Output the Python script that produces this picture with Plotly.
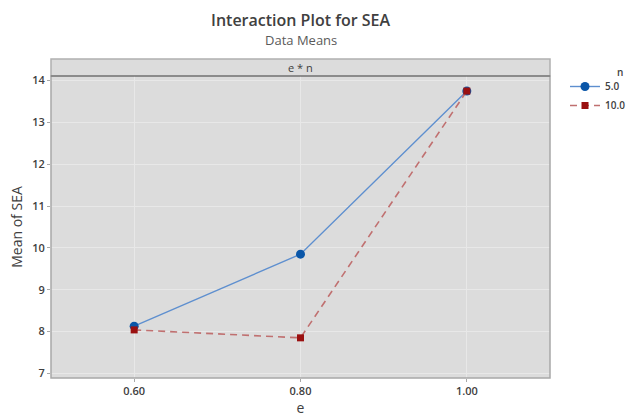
import plotly.graph_objects as go

# Factor levels and cell means
e_levels = [0.60, 0.80, 1.00]
e_labels = ["0.60", "0.80", "1.00"]
mean_n5 = [8.13, 9.85, 13.75]
mean_n10 = [8.04, 7.85, 13.75]
y_ticks = [7, 8, 9, 10, 11, 12, 13, 14]

FONT = "Open Sans"
TXT = "#404040"

fig = go.Figure()

fig.add_trace(go.Scatter(
    x=e_levels, y=mean_n5, name="5.0", mode="lines+markers",
    line=dict(color="#5e8fcf", width=1.4),
    marker=dict(symbol="circle", size=9, color="#0a56a8"),
))
fig.add_trace(go.Scatter(
    x=e_levels, y=mean_n10, name="10.0", mode="lines+markers",
    line=dict(color="#c07070", width=1.6, dash="7px,5px"),
    marker=dict(symbol="square", size=7, color="#9a1010"),
))

plot_top = 302 / 319  # panel area below the facet strip

fig.update_layout(
    width=633, height=419,
    margin=dict(l=51, r=83, t=59, b=41, autoexpand=False),
    paper_bgcolor="white",
    plot_bgcolor="#dcdcdc",
    font=dict(family=FONT, color=TXT, size=11),
    showlegend=True,
    legend=dict(
        xref="container", yref="container",
        x=565 / 633, y=1 - 72 / 419, xanchor="left", yanchor="top",
        font=dict(size=10, color=TXT, weight=600),
        bgcolor="rgba(0,0,0,0)", tracegroupgap=0, itemwidth=30,
    ),
    xaxis=dict(
        range=[0.5, 1.1], automargin=False,
        tickvals=e_levels, ticktext=e_labels,
        showgrid=True, gridcolor="#e8e8e8", gridwidth=1,
        showline=False,
        ticks="outside", ticklen=3, tickcolor="#a8a8a8",
        tickfont=dict(size=11, color=TXT, weight=600),
        title=dict(text="e", font=dict(size=14, color=TXT), standoff=0),
        zeroline=False,
    ),
    yaxis=dict(
        range=[6.89, 14.11], automargin=False,
        domain=[0, plot_top],
        tickvals=y_ticks,
        showgrid=True, gridcolor="#e8e8e8", gridwidth=1,
        showline=False,
        ticks="outside", ticklen=3, tickcolor="#a8a8a8",
        tickfont=dict(size=11, color=TXT, weight=600),
        title=dict(text="Mean of SEA", font=dict(size=14, color=TXT), standoff=6),
        zeroline=False,
    ),
)

# Legend heading for the grouping factor
fig.add_annotation(text="n", xref="paper", yref="paper",
                   x=(625 - 51) / 499, y=1 - (72 - 59) / 319,
                   xanchor="right", yanchor="middle", showarrow=False,
                   font=dict(size=10, color=TXT, weight=600))

# Panel border
fig.add_shape(type="rect", xref="x domain", yref="y domain",
              x0=0, x1=1, y0=0, y1=1,
              line=dict(color="#a8a8a8", width=1.5), layer="above")

# Facet strip header
fig.add_shape(type="rect", xref="paper", yref="paper",
              x0=0, x1=1, y0=plot_top, y1=1,
              fillcolor="#dcdcdc", line=dict(color="#b0b0b0", width=1.5), layer="below")
fig.add_shape(type="line", xref="paper", yref="paper",
              x0=0, x1=1, y0=plot_top, y1=plot_top,
              line=dict(color="#6a6a6a", width=1))
fig.add_annotation(text="e * n", xref="paper", yref="paper",
                   x=0.5, y=(plot_top + 1) / 2, yanchor="middle", showarrow=False,
                   font=dict(size=11, color=TXT))

# Titles
fig.add_annotation(text="Interaction Plot for SEA", xref="paper", yref="paper",
                   x=0.5, y=1, yshift=39, yanchor="middle", showarrow=False,
                   font=dict(size=16, color=TXT, weight=600))
fig.add_annotation(text="Data Means", xref="paper", yref="paper",
                   x=0.5, y=1, yshift=19, yanchor="middle", showarrow=False,
                   font=dict(size=13, color="#5a5a5a"))

fig.write_html("out.html")
